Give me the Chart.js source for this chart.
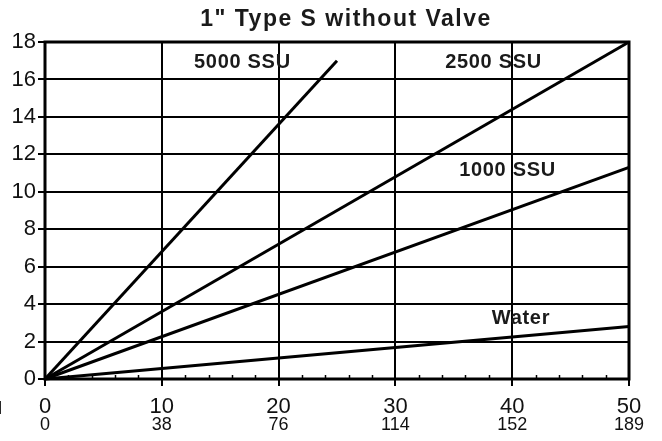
<!DOCTYPE html>
<html>
<head>
<meta charset="utf-8">
<script src="https://cdn.jsdelivr.net/npm/chart.js@4"></script>
<style>
html,body{margin:0;padding:0;background:#fff;}
#wrap{width:662px;height:441px;position:relative;}
</style>
</head>
<body>
<div id="wrap"><canvas id="c" width="662" height="441"></canvas></div>
<script>
// ---- data ----
const chartTitle = '1" Type S without Valve';
const seriesNames = ['5000 SSU', '2500 SSU', '1000 SSU', 'Water'];
const flow5000 = [0, 25];   const drop5000 = [0, 17];
const flow2500 = [0, 50];   const drop2500 = [0, 18];
const flow1000 = [0, 50];   const drop1000 = [0, 11.3];
const flowWater = [0, 50];  const dropWater = [0, 2.8];
const gpmTicks = [0, 10, 20, 30, 40, 50];
const lpmTicks = ['0', '38', '76', '114', '152', '189'];
const yTicks = [0, 2, 4, 6, 8, 10, 12, 14, 16, 18];

const FONT = "'Liberation Sans', Arial, Helvetica, sans-serif";
const pts = (xs, ys) => xs.map((x, i) => ({x: x, y: ys[i]}));
const allSeries = [
  pts(flow5000, drop5000),
  pts(flow2500, drop2500),
  pts(flow1000, drop1000),
  pts(flowWater, dropWater)
];

const decor = {
  id: 'decor',
  beforeDraw(chart) {
    const ctx = chart.ctx;
    ctx.save();
    ctx.fillStyle = '#fff';
    ctx.fillRect(0, 0, chart.width, chart.height);
    ctx.restore();
  },
  afterDatasetsDraw(chart, args, opts) {
    const ctx = chart.ctx, a = chart.chartArea;
    const xs = chart.scales.x, ys = chart.scales.y;
    ctx.save();
    // frame
    ctx.strokeStyle = '#000';
    ctx.lineWidth = 3;
    ctx.strokeRect(a.left, a.top, a.right - a.left, a.bottom - a.top);
    // minor ticks on x axis, pointing up inside plot
    ctx.lineWidth = 1.5;
    for (let v = 0; v <= 50; v += 2) {
      if (v % 10 === 0) continue;
      const px = Math.round(xs.getPixelForValue(v)) + 0.5;
      ctx.beginPath();
      ctx.moveTo(px, a.bottom);
      ctx.lineTo(px, a.bottom - 4);
      ctx.stroke();
    }
    // series labels
    ctx.fillStyle = '#1a1a1a';
    ctx.font = 'bold 20px ' + FONT;
    ctx.textAlign = 'center';
    ctx.textBaseline = 'middle';
    if ('letterSpacing' in ctx) ctx.letterSpacing = '0.7px';
    opts.labels.forEach((l, i) => {
      ctx.fillText(seriesNames[i], xs.getPixelForValue(l[0]), ys.getPixelForValue(l[1]));
    });
    // title
    ctx.font = 'bold 23px ' + FONT;
    if ('letterSpacing' in ctx) ctx.letterSpacing = '1.5px';
    ctx.fillText(chartTitle, opts.titleX, opts.titleY);
    if ('letterSpacing' in ctx) ctx.letterSpacing = '0px';
    // stray glyph at left edge
    ctx.font = '19px ' + FONT;
    ctx.textAlign = 'left';
    ctx.fillText('l', -2, 409);
    ctx.restore();
  }
};

new Chart(document.getElementById('c'), {
  type: 'line',
  data: {
    datasets: allSeries.map((d, i) => ({
      label: seriesNames[i],
      data: d,
      borderColor: '#000',
      borderWidth: 3,
      pointRadius: 0,
      fill: false,
      tension: 0,
      clip: false
    }))
  },
  options: {
    responsive: false,
    animation: false,
    devicePixelRatio: 1,
    layout: {padding: {top: 42, right: 33, left: 0, bottom: 0}},
    plugins: {
      legend: {display: false},
      title: {display: false},
      tooltip: {enabled: false},
      decor: {
        labels: [[16.9, 16.9], [38.4, 16.9], [39.6, 11.15], [40.75, 3.25]],
        titleX: 346, titleY: 20
      }
    },
    scales: {
      x: {
        type: 'linear', position: 'bottom', min: 0, max: 50,
        afterBuildTicks: s => { s.ticks = gpmTicks.map(v => ({value: v})); },
        afterFit: s => { s.height = 35; },
        ticks: {color: '#111', font: {family: FONT, size: 22}, padding: 8, maxRotation: 0},
        grid: {
          color: c => (c.tick && (c.tick.value === 0 || c.tick.value === 50)) ? 'rgba(0,0,0,0)' : '#000',
          lineWidth: 2, tickLength: 7, tickColor: '#000', tickWidth: 2
        },
        border: {display: false}
      },
      x2: {
        type: 'linear', position: 'bottom', min: 0, max: 50,
        afterBuildTicks: s => { s.ticks = gpmTicks.map(v => ({value: v})); },
        afterFit: s => { s.height = 27; },
        ticks: {color: '#111', font: {family: FONT, size: 18}, padding: 0, maxRotation: 0,
          callback: (v, i) => lpmTicks[i]},
        grid: {display: false, drawTicks: false},
        border: {display: false}
      },
      y: {
        type: 'linear', min: 0, max: 18,
        afterBuildTicks: s => { s.ticks = yTicks.map(v => ({value: v})); },
        afterFit: s => { s.width = 45; },
        ticks: {color: '#111', font: {family: FONT, size: 22}, padding: 2},
        grid: {color: '#000', lineWidth: 2, tickLength: 7, tickColor: '#000', tickWidth: 2},
        border: {display: false}
      }
    }
  },
  plugins: [decor]
});
</script>
</body>
</html>
